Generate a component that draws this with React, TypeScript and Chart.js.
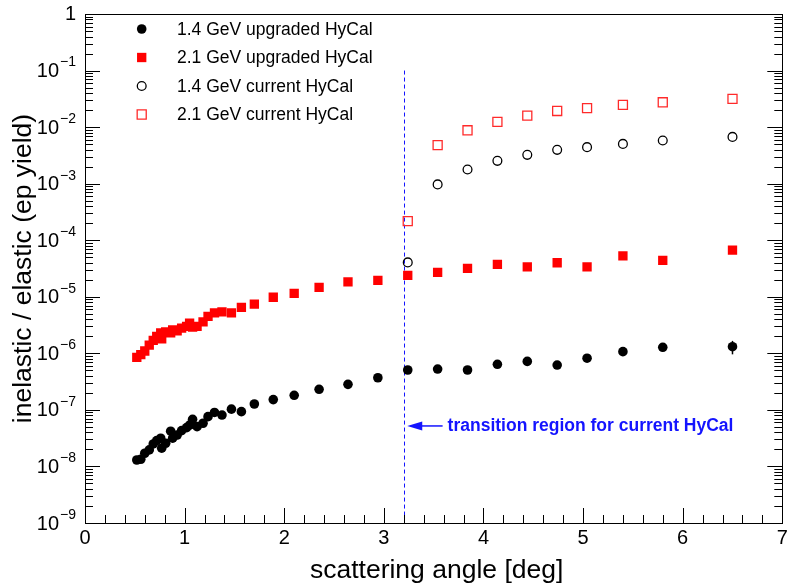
import { useEffect, useRef } from "react";
import { Chart, registerables } from "chart.js";

Chart.register(...registerables);

// ---------- data ----------
const upgradedAngles = [
  0.52, 0.56, 0.6, 0.645, 0.685, 0.72, 0.76, 0.77, 0.81, 0.86, 0.88, 0.925, 0.97, 1.02, 1.05,
  1.08, 1.125, 1.185, 1.235, 1.3, 1.375, 1.47, 1.57, 1.7, 1.89, 2.1, 2.35, 2.64, 2.94, 3.24,
  3.54, 3.84, 4.14, 4.44, 4.74, 5.04, 5.4, 5.8, 6.5,
];
const upgraded14 = [
  1.3e-8, 1.34e-8, 1.71e-8, 1.96e-8, 2.5e-8, 2.86e-8, 3.16e-8, 2.1e-8, 2.57e-8, 4.2e-8, 3.16e-8,
  3.6e-8, 4.3e-8, 4.85e-8, 5.4e-8, 6.8e-8, 5.05e-8, 5.8e-8, 7.6e-8, 9.0e-8, 8.1e-8, 1.03e-7,
  9.3e-8, 1.27e-7, 1.52e-7, 1.81e-7, 2.31e-7, 2.83e-7, 3.7e-7, 5.07e-7, 5.28e-7, 5.07e-7,
  6.4e-7, 7.2e-7, 6.2e-7, 8.2e-7, 1.07e-6, 1.28e-6, 1.31e-6,
];
const upgraded21 = [
  8.5e-7, 9.5e-7, 1.1e-6, 1.4e-6, 1.7e-6, 2.0e-6, 2.3e-6, 1.8e-6, 2.4e-6, 2.3e-6, 2.6e-6, 2.5e-6,
  2.8e-6, 3.0e-6, 3.4e-6, 2.9e-6, 3.0e-6, 3.6e-6, 4.5e-6, 5.2e-6, 5.4e-6, 5.2e-6, 6.5e-6, 7.4e-6,
  9.8e-6, 1.15e-5, 1.47e-5, 1.84e-5, 1.95e-5, 2.39e-5, 2.7e-5, 3.17e-5, 3.74e-5, 3.39e-5,
  3.99e-5, 3.39e-5, 5.3e-5, 4.4e-5, 6.7e-5,
];
const currentAngles = [3.24, 3.54, 3.84, 4.14, 4.44, 4.74, 5.04, 5.4, 5.8, 6.5];
const current14 = [4.05e-5, 9.7e-4, 1.78e-3, 2.53e-3, 3.23e-3, 3.96e-3, 4.42e-3, 5.05e-3, 5.79e-3, 6.71e-3];
const current21 = [2.17e-4, 4.79e-3, 8.8e-3, 1.24e-2, 1.6e-2, 1.93e-2, 2.16e-2, 2.47e-2, 2.75e-2, 3.15e-2];

// error bars (only visible ones)
const errAngles14 = [5.8, 6.5];
const errValues14 = [1.28e-6, 1.31e-6];
const errSizes14 = [0.2e-6, 0.35e-6];

const seriesLabels = [
  "1.4 GeV upgraded HyCal",
  "2.1 GeV upgraded HyCal",
  "1.4 GeV current HyCal",
  "2.1 GeV current HyCal",
];

const xTickLabels = ["0", "1", "2", "3", "4", "5", "6", "7"];
const yTickExponents = [-9, -8, -7, -6, -5, -4, -3, -2, -1, 0];

const xTitle = "scattering angle [deg]";
const yTitle = "inelastic / elastic (ep yield)";
const annotationText = "transition region for current HyCal";
const transitionAngle = 3.2;
const transitionTop = 0.1;
const arrowY = 5.2e-8;
const arrowTip = 3.235;
const arrowTail = 3.59;
const annotationStart = 3.64;

const FONT = '"Liberation Sans", Arial, Helvetica, sans-serif';
const BLUE = "#1414ff";
const RED = "#ff0000";
const RED_OPEN = "#ff2a2a";

type Style = { kind: string; fill: string; stroke: string; r: number; bw: number };
const styles: Style[] = [
  { kind: "circle", fill: "#000", stroke: "#000", r: 4.8, bw: 0 },
  { kind: "rect", fill: RED, stroke: RED, r: 6.6, bw: 0 },
  { kind: "circle", fill: "rgba(0,0,0,0)", stroke: "#000", r: 4.4, bw: 1.3 },
  { kind: "rect", fill: "rgba(0,0,0,0)", stroke: RED_OPEN, r: 6.4, bw: 1.3 },
];

const rootPlugin = {
  id: "rootAxes",
  beforeDatasetsDraw(chart: any) {
    const { ctx, scales } = chart;
    const x = scales.x;
    const y = scales.y;
    ctx.save();
    ctx.strokeStyle = BLUE;
    ctx.lineWidth = 1;
    ctx.setLineDash([4, 3]);
    const lx = Math.round(x.getPixelForValue(transitionAngle)) + 0.5;
    ctx.beginPath();
    ctx.moveTo(lx, y.getPixelForValue(transitionTop));
    ctx.lineTo(lx, y.getPixelForValue(1e-9));
    ctx.stroke();
    ctx.restore();
  },
  afterDatasetsDraw(chart: any) {
    const { ctx, scales, chartArea } = chart;
    const x = scales.x;
    const y = scales.y;
    const { left, right, top, bottom } = chartArea;
    ctx.save();

    // error bars
    ctx.strokeStyle = "#000";
    ctx.lineWidth = 1.5;
    errAngles14.forEach((a, i) => {
      const px = x.getPixelForValue(a);
      ctx.beginPath();
      ctx.moveTo(px, y.getPixelForValue(errValues14[i] - errSizes14[i]));
      ctx.lineTo(px, y.getPixelForValue(errValues14[i] + errSizes14[i]));
      ctx.stroke();
    });

    // frame
    ctx.strokeStyle = "#000";
    ctx.lineWidth = 1;
    ctx.strokeRect(Math.round(left) + 0.5, Math.round(top) + 0.5, Math.round(right - left), Math.round(bottom - top));

    // x ticks
    ctx.beginPath();
    for (let i = 0; i <= 35; i++) {
      const v = i * 0.2;
      const px = Math.round(x.getPixelForValue(v)) + 0.5;
      const len = i % 5 === 0 ? 15 : 8;
      ctx.moveTo(px, bottom);
      ctx.lineTo(px, bottom - len);
    }
    // y ticks (left and right)
    for (let e = -9; e <= 0; e++) {
      for (let m = 1; m <= 9; m++) {
        const v = m * Math.pow(10, e);
        if (v > 1) break;
        const py = Math.round(y.getPixelForValue(v)) + 0.5;
        const len = m === 1 ? 15 : 8;
        ctx.moveTo(left, py);
        ctx.lineTo(left + len, py);
        ctx.moveTo(right, py);
        ctx.lineTo(right - len, py);
      }
    }
    ctx.stroke();

    // x tick labels
    ctx.fillStyle = "#000";
    ctx.font = `20px ${FONT}`;
    ctx.textAlign = "center";
    ctx.textBaseline = "middle";
    xTickLabels.forEach((t, i) => {
      ctx.fillText(t, x.getPixelForValue(i), bottom + 15);
    });

    // y tick labels
    const labRight = left - 9;
    yTickExponents.forEach((e) => {
      const py = y.getPixelForValue(Math.pow(10, e));
      if (e === 0) {
        ctx.font = `20px ${FONT}`;
        ctx.textAlign = "right";
        ctx.fillText("1", labRight, py);
        return;
      }
      const sup = "\u2212" + String(-e);
      ctx.font = `14px ${FONT}`;
      const sw = ctx.measureText(sup).width;
      ctx.textAlign = "left";
      ctx.fillText(sup, labRight - sw, py - 8);
      ctx.font = `20px ${FONT}`;
      ctx.textAlign = "right";
      ctx.fillText("10", labRight - sw - 1, py + 1);
    });

    // axis titles
    ctx.font = `26.5px ${FONT}`;
    ctx.textAlign = "center";
    ctx.fillText(xTitle, (left + right) / 2 + 3, bottom + 48);
    ctx.save();
    ctx.translate(24, (top + bottom) / 2);
    ctx.rotate(-Math.PI / 2);
    ctx.fillText(yTitle, 0, 0);
    ctx.restore();

    // legend
    const rows = [29, 57.5, 86, 114.5];
    rows.forEach((ry, i) => {
      const s = styles[i];
      const mx = 141.7;
      ctx.fillStyle = s.fill;
      ctx.strokeStyle = s.stroke;
      ctx.lineWidth = s.bw;
      ctx.beginPath();
      if (s.kind === "circle") {
        ctx.arc(mx, ry, s.r, 0, Math.PI * 2);
      } else {
        const h = s.r * Math.SQRT1_2;
        ctx.rect(mx - h, ry - h, 2 * h, 2 * h);
      }
      ctx.fill();
      if (s.bw > 0) ctx.stroke();
      ctx.fillStyle = "#000";
      ctx.font = `17.5px ${FONT}`;
      ctx.textAlign = "left";
      ctx.textBaseline = "middle";
      ctx.fillText(seriesLabels[i], 177, ry + 1);
    });

    // annotation arrow + text
    const ay = y.getPixelForValue(arrowY);
    const tipX = x.getPixelForValue(arrowTip);
    const tailX = x.getPixelForValue(arrowTail);
    ctx.strokeStyle = BLUE;
    ctx.fillStyle = BLUE;
    ctx.lineWidth = 1.5;
    ctx.beginPath();
    ctx.moveTo(tailX, ay);
    ctx.lineTo(tipX + 10, ay);
    ctx.stroke();
    ctx.beginPath();
    ctx.moveTo(tipX, ay);
    ctx.lineTo(tipX + 15, ay - 4.5);
    ctx.lineTo(tipX + 15, ay + 4.5);
    ctx.closePath();
    ctx.fill();
    ctx.font = `bold 17.5px ${FONT}`;
    ctx.textAlign = "left";
    ctx.textBaseline = "middle";
    ctx.fillText(annotationText, x.getPixelForValue(annotationStart), ay);

    ctx.restore();
  },
};

function toPoints(xs: number[], ys: number[]) {
  return xs.map((v, i) => ({ x: v, y: ys[i] }));
}

export default function App() {
  const ref = useRef<HTMLCanvasElement | null>(null);
  useEffect(() => {
    document.body.style.margin = "0";
    const canvas = ref.current;
    if (!canvas) return;
    const mk = (label: string, data: any[], s: Style, order: number) => ({
      label,
      data,
      showLine: false,
      pointStyle: s.kind,
      pointRadius: s.r,
      pointHoverRadius: s.r,
      pointBackgroundColor: s.fill,
      pointBorderColor: s.stroke,
      pointBorderWidth: s.bw,
      backgroundColor: s.fill,
      borderColor: s.stroke,
      order,
    });
    const chart = new Chart(canvas, {
      type: "scatter",
      data: {
        datasets: [
          mk(seriesLabels[0], toPoints(upgradedAngles, upgraded14), styles[0], 4),
          mk(seriesLabels[1], toPoints(upgradedAngles, upgraded21), styles[1], 3),
          mk(seriesLabels[2], toPoints(currentAngles, current14), styles[2], 2),
          mk(seriesLabels[3], toPoints(currentAngles, current21), styles[3], 1),
        ] as any,
      },
      options: {
        responsive: false,
        animation: false,
        devicePixelRatio: 1,
        layout: { padding: { left: 85, right: 7, top: 14, bottom: 61 } },
        plugins: { legend: { display: false }, tooltip: { enabled: false } },
        scales: {
          x: { type: "linear", min: 0, max: 7, display: false },
          y: { type: "logarithmic", min: 1e-9, max: 1, display: false },
        },
      },
      plugins: [rootPlugin],
    });
    return () => chart.destroy();
  }, []);
  return (
    <div style={{ width: 790, height: 584, background: "#fff" }}>
      <canvas ref={ref} width={790} height={584} style={{ display: "block" }} />
    </div>
  );
}
